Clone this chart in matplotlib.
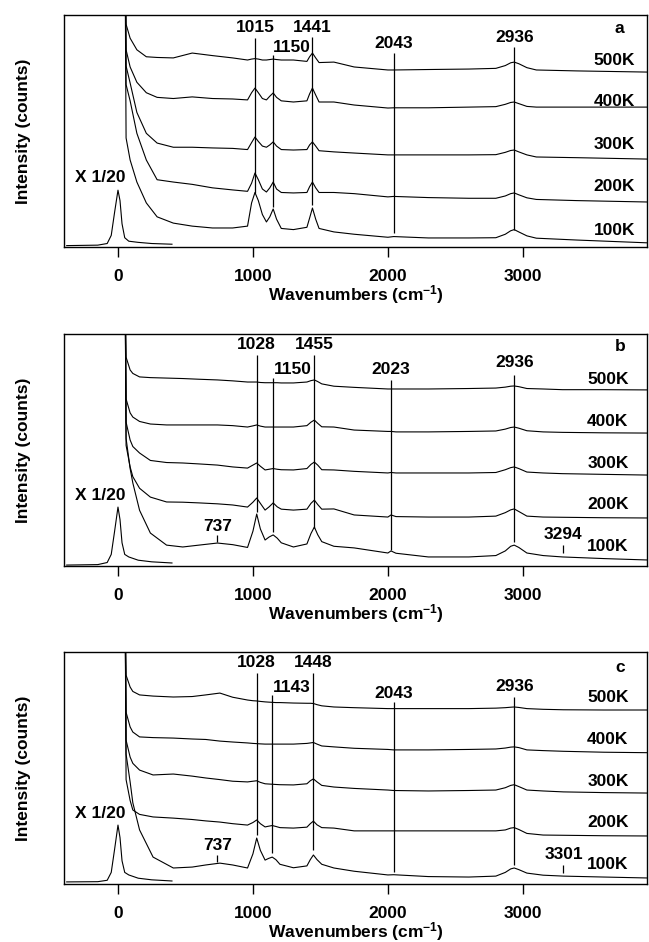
import numpy as np
import matplotlib
matplotlib.use("Agg")
import matplotlib.pyplot as plt

plt.rcParams['font.family'] = ['Liberation Sans', 'DejaVu Sans']
plt.rcParams['font.weight'] = 'bold'
plt.rcParams['mathtext.fontset'] = 'custom'
plt.rcParams['mathtext.bf'] = 'Liberation Sans:bold'
plt.rcParams['mathtext.rm'] = 'Liberation Sans:bold'
plt.rcParams['mathtext.default'] = 'bf'

# laser line (scaled x 1/20)
laser_wn = [-380, -150, -80, -50, -25, 0, 15, 30, 50, 80, 150, 250, 400]
laser_a = [0.6, 0.8, 1.5, 5, 15, 24.5, 20, 10, 4, 2.5, 2, 1.5, 1.2]
laser_b = [0.4, 0.6, 1.5, 5, 15, 25.4, 20, 10, 5, 3.9, 2.5, 1.8, 1.3]
laser_c = [0.9, 1.0, 1.6, 5, 15, 25.4, 20, 10, 5, 3.9, 2.5, 1.8, 1.3]

temps = ['100K', '200K', '300K', '400K', '500K']

# panel a
wn_a = [52, 60, 90, 140, 210, 290, 410, 550, 700, 850, 960, 990, 1015, 1040, 1070, 1100, 1125,
        1150, 1175, 1210, 1300, 1400, 1420, 1441, 1465, 1490, 1600, 1750, 2000, 2043, 2300,
        2600, 2800, 2870, 2910, 2936, 2970, 3030, 3100, 3400, 3920]
a_100 = [130, 47, 37.5, 28, 19, 13, 10.3, 9, 8.2, 8.2, 9, 19, 23.5, 20, 14, 10.8, 13,
         16.4, 12, 8, 7.5, 8.5, 12.5, 16.8, 12, 8, 6.5, 5.5, 4.2, 4.5, 3.9,
         3.9, 4, 5.5, 7, 7.5, 6.5, 4.8, 3.8, 3, 1.8]
a_200 = [130, 70, 63, 49, 37.5, 29, 28, 27, 25.5, 24.6, 24, 27.5, 31.9, 29, 25, 23.7, 25.5,
         28, 25, 23.5, 23.3, 23.5, 26, 28, 25.5, 23.5, 23.5, 23, 21.6, 21.8, 21.3,
         21, 21, 22, 23, 23.3, 22.5, 21.2, 20.5, 20, 19.4]
a_300 = [130, 78, 70.7, 58, 49, 44.8, 43, 43, 42.7, 42.5, 42, 45, 47.4, 45.5, 43.5, 43, 44,
         45.3, 43.5, 42, 41.8, 42, 44, 45.3, 43.5, 41.5, 41, 40.5, 39.7, 39.7, 39.7,
         39.7, 39.8, 40.8, 41.6, 41.8, 41, 39.7, 38.8, 38.5, 37.9]
a_400 = [130, 85, 77.6, 71, 66.5, 64.5, 64, 64.7, 64, 63.8, 63.4, 66.5, 68.5, 66.5, 64, 63.4, 65,
         66.4, 64.5, 63, 62.5, 63, 66, 68.5, 65.5, 62.5, 62.5, 61.2, 59.9, 60, 60,
         60.3, 60.5, 61.5, 62.3, 62.5, 61.8, 60.6, 60.3, 60.3, 60.3]
a_500 = [130, 96, 90, 85, 82, 81.7, 81.5, 83.6, 82.5, 81.5, 80.6, 81, 81.2, 81, 80.6, 80.6, 80.8,
         81, 80.8, 80.6, 80.6, 80, 82, 83.6, 81.5, 79.5, 79.7, 77.6, 76.3, 76.3, 76.5,
         76.7, 77, 78.2, 79.4, 79.7, 79, 77.3, 76.3, 75.9, 75.4]

# panel b
wn_b = [52, 60, 90, 110, 160, 240, 360, 480, 600, 737, 850, 960, 1000, 1028, 1055, 1090, 1120,
        1150, 1180, 1210, 1300, 1400, 1430, 1455, 1480, 1510, 1600, 1750, 2000, 2023, 2060,
        2300, 2600, 2800, 2870, 2910, 2936, 2970, 3030, 3150, 3294, 3600, 3920]
b_100 = [130, 55, 42, 35.8, 24, 14.2, 9, 8.2, 9, 9.9, 9.2, 8, 15, 22.4, 16, 11.2, 12.5,
         13.4, 12, 10, 8.2, 9.5, 14, 16.8, 13.5, 10.5, 8.5, 7.8, 5.6, 6.5, 5.5,
         3.9, 3.9, 4.5, 6.5, 8.5, 9, 8, 5.6, 4.5, 3.9, 3.2, 2.6]
b_200 = [130, 52, 42.7, 38.5, 33.5, 29.7, 27.6, 27.5, 27.2, 26.8, 26.3, 25.4, 27.5, 29.3, 27, 24.1, 25.5,
         27.2, 25.5, 24.5, 24.1, 24.5, 27, 28.4, 26.5, 24.5, 24.6, 22, 21.1, 22, 21.3,
         21.1, 21.1, 21.5, 23, 24.2, 24.6, 23.5, 21.5, 21.1, 21, 20.8, 20.7]
b_300 = [130, 62, 54.3, 51.5, 48.7, 45.5, 44.6, 44.4, 44, 43.5, 42.7, 42.2, 43.5, 44.4, 43, 41.4, 41.7,
         42, 41.7, 41.5, 41.4, 42, 43.8, 44.8, 43.5, 41.5, 41.4, 40.8, 40.1, 40.3, 40.1,
         40.1, 40.1, 40.3, 41.5, 42.4, 42.7, 42, 40.5, 40.1, 39.8, 39.5, 39.2]
b_400 = [130, 72, 66, 64.2, 62.3, 61.2, 60.8, 60.8, 60.8, 60.8, 60.5, 59.9, 60.4, 60.8, 60.3, 59.9, 59.9,
         59.9, 59.9, 59.9, 59.9, 60.5, 62, 62.9, 61.5, 60, 59.9, 58.6, 58, 58, 57.8,
         57.8, 58, 58.2, 59, 59.7, 59.9, 59.4, 58.3, 57.8, 57.6, 57.4, 57.3]
b_500 = [130, 90, 84.5, 83, 81.5, 81.2, 81, 80.8, 80.5, 80.2, 79.8, 79.3, 79.3, 79.3, 79.1, 79, 79,
         79, 79, 78.9, 78.9, 79.3, 79.9, 80.2, 79.5, 78.5, 77.5, 77, 76.3, 76.3, 76.3,
         76.3, 76.5, 76.7, 77.1, 77.5, 77.6, 77.3, 76.5, 76.3, 76, 76, 75.9]

# panel c
wn_c = [52, 60, 90, 110, 160, 260, 410, 550, 650, 755, 850, 960, 1000, 1028, 1055, 1090, 1115,
        1143, 1170, 1200, 1300, 1400, 1425, 1448, 1475, 1510, 1600, 1750, 2000, 2043, 2300,
        2600, 2800, 2870, 2910, 2936, 2970, 3030, 3150, 3301, 3600, 3920]
c_100 = [130, 56, 44, 35, 23.3, 11.6, 6.9, 7.3, 8.2, 9, 8.2, 6.9, 13, 19.8, 14.5, 10.3, 11,
         11.6, 10.5, 8.5, 7, 7.8, 10.5, 12.5, 10.5, 8.5, 6.9, 5.5, 3.9, 4, 3.2,
         3, 3.4, 5, 6.5, 6.9, 6.2, 4.7, 3.8, 3.4, 3, 2.6]
c_200 = [130, 45, 36, 31.9, 30, 28.9, 28.4, 27.8, 27.2, 26.7, 26, 25.4, 26.5, 27.6, 26, 24.6, 24.9,
         25.2, 24.8, 24.3, 24.1, 24.5, 26, 27.1, 25.5, 24.3, 24.1, 22.9, 22.9, 22.9, 22.9,
         22.9, 22.9, 23.3, 24.1, 24.3, 23.5, 21.8, 21.1, 21, 20.8, 20.7]
c_300 = [130, 62, 54.7, 52, 49.1, 47, 47.4, 46.5, 45.7, 45, 44.3, 44, 44.3, 44.5, 43.8, 43.2, 43.1,
         43, 42.9, 42.8, 42.7, 43.2, 44.5, 45.3, 44, 42.5, 41.8, 41.2, 40.5, 40.3, 40.1,
         40.3, 40.5, 41.5, 42.5, 42.8, 42, 40.5, 40.1, 39.7, 39.4, 39.2]
c_400 = [130, 74, 67.7, 65.5, 63.4, 63.1, 62.9, 62.5, 62.3, 61.6, 61.2, 60.8, 60.6, 60.5, 60.4, 60.3, 60.3,
         60.3, 60.3, 60.3, 60.3, 60.6, 60.8, 61, 60.3, 59.5, 59.1, 58.5, 58, 57.8, 57.8,
         58, 58.2, 58.6, 59, 59.1, 58.8, 57.8, 57.5, 57.2, 56.8, 56.6]
c_500 = [130, 90, 84.9, 83, 81.5, 81, 80.6, 80.8, 81.5, 82.3, 80.5, 79.3, 79, 78.9, 78.7, 78.5, 78.4,
         78.3, 78.2, 78.2, 78, 77.9, 77.9, 77.8, 77.3, 76.8, 76.3, 76, 75.6, 75.6, 75.6,
         75.6, 75.8, 76, 76.2, 76.3, 76.1, 75.6, 75.3, 75.1, 75, 75]

fig = plt.figure(figsize=(6.49, 9.42), dpi=100)
W, H = 649.0, 942.0
fs = 12.5


def make_ax(top, bottom):
    ax = fig.add_axes([64 / W, 1 - bottom / H, (647 - 64) / W, (bottom - top) / H])
    ax.set_xlim(-400, 3920)
    ax.set_ylim(0, 100)
    ax.set_yticks([])
    ax.set_xticks([0, 1000, 2000, 3000])
    ax.tick_params(axis='x', direction='out', length=7.5, width=1, pad=8, labelsize=fs)
    for s in ax.spines.values():
        s.set_linewidth(1.0)
    ax.set_xlabel(r'Wavenumbers (cm$^{-1}$)', fontsize=fs, fontweight='bold', labelpad=0)
    ax.set_ylabel('Intensity (counts)', fontsize=fs, fontweight='bold', labelpad=24)
    return ax


def draw(ax, wn, series, laser, tlab_x, lbl_y):
    ax.plot(laser_wn, laser, color='black', lw=0.8)
    for s in series:
        ax.plot(wn, s, color='black', lw=0.8)
    for t, y in zip(temps, lbl_y):
        ax.text(tlab_x, y, t, ha='center', va='center', fontsize=fs)
    ax.text(-133, lbl_y[1] + 4, 'X 1/20', ha='center', va='center', fontsize=fs)


# ---- panel a
ax = make_ax(15, 247)
draw(ax, wn_a, [a_100, a_200, a_300, a_400, a_500], laser_a, 3680, [7.3, 25.9, 44, 62.5, 80.6])
ax.text(3718, 94, 'a', ha='center', va='center', fontsize=fs)
ax.text(1015, 94.4, '1015', ha='center', va='center', fontsize=fs)
ax.text(1441, 94.4, '1441', ha='center', va='center', fontsize=fs)
ax.text(1150, 86.2, '1150', ha='left', va='center', fontsize=fs)
ax.text(2043, 87.9, '2043', ha='center', va='center', fontsize=fs)
ax.text(2936, 90.1, '2936', ha='center', va='center', fontsize=fs)
ax.vlines([1015, 1150, 1441, 2043, 2936], [23.3, 17.2, 18, 6, 7.3], [90.1, 82.8, 90.5, 83.6, 86.2],
          color='black', lw=0.9)

# ---- panel b
ax = make_ax(334, 566)
draw(ax, wn_b, [b_100, b_200, b_300, b_400, b_500], laser_b, 3630, [8.2, 26.3, 44, 62.1, 80.2])
ax.text(3718, 94.4, 'b', ha='center', va='center', fontsize=fs)
ax.text(1028, 95.3, '1028', ha='center', va='center', fontsize=fs)
ax.text(1455, 95.3, '1455', ha='center', va='center', fontsize=fs)
ax.text(1155, 84.5, '1150', ha='left', va='center', fontsize=fs)
ax.text(2023, 84.5, '2023', ha='center', va='center', fontsize=fs)
ax.text(2936, 87.5, '2936', ha='center', va='center', fontsize=fs)
ax.text(737, 17.2, '737', ha='center', va='center', fontsize=fs)
ax.text(3294, 13.4, '3294', ha='center', va='center', fontsize=fs)
ax.vlines([1028, 1150, 1455, 2023, 2936, 737, 3294], [23.3, 14.7, 16.4, 6.9, 10.3, 10.3, 5.6],
          [91, 81, 91, 80.2, 82.3, 13.4, 9], color='black', lw=0.9)

# ---- panel c
ax = make_ax(652, 884)
draw(ax, wn_c, [c_100, c_200, c_300, c_400, c_500], laser_c, 3630, [8.2, 26.3, 44, 62.1, 80.6])
ax.text(3718, 93.5, 'c', ha='center', va='center', fontsize=fs)
ax.text(1028, 95.3, '1028', ha='center', va='center', fontsize=fs)
ax.text(1448, 95.3, '1448', ha='center', va='center', fontsize=fs)
ax.text(1148, 84.9, '1143', ha='left', va='center', fontsize=fs)
ax.text(2043, 82.3, '2043', ha='center', va='center', fontsize=fs)
ax.text(2936, 85.3, '2936', ha='center', va='center', fontsize=fs)
ax.text(737, 16.8, '737', ha='center', va='center', fontsize=fs)
ax.text(3301, 12.9, '3301', ha='center', va='center', fontsize=fs)
ax.vlines([1028, 1143, 1448, 2043, 2936, 737, 3301], [21.1, 13.4, 14.7, 5.2, 8.2, 9.5, 4.7],
          [91, 81.5, 91, 78.4, 80.6, 12.5, 8.2], color='black', lw=0.9)

fig.savefig('out.png', dpi=100)
